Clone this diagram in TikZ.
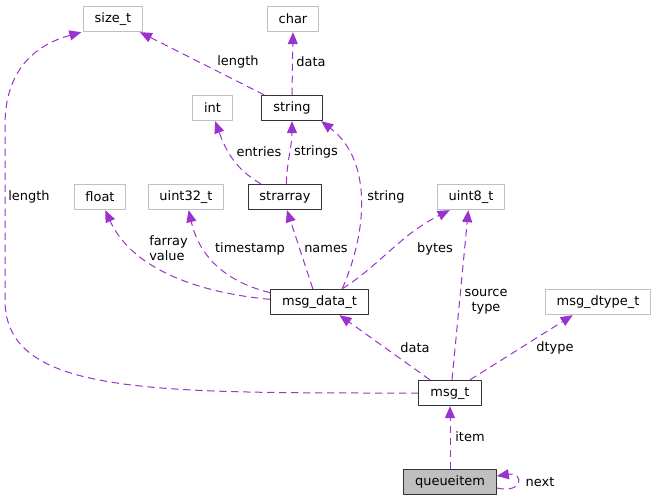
\documentclass[tikz,border=0pt]{standalone}
\usepackage{fontspec}
\setmainfont{DejaVu Sans}
\usetikzlibrary{arrows.meta}
\definecolor{edgepurple}{HTML}{9A32CD}
\definecolor{leafgray}{HTML}{C0C0C0}
\definecolor{itemgray}{HTML}{BFBFBF}
\tikzset{
  type box/.style={draw=leafgray, line width=0.75pt, minimum height=19pt, inner xsep=8.6pt, inner ysep=0pt,
    font=\fontsize{9.7}{11}\selectfont},
  struct box/.style={type box, draw=black!80},
  member edge/.style={edgepurple, line width=0.75pt, dash pattern=on 5.5pt off 3.5pt,
    -{Triangle[length=9pt,width=7.5pt]}},
  member label/.style={inner sep=0pt, font=\fontsize{9.7}{11}\selectfont}
}

\begin{document}
\begin{tikzpicture}[x=0.75pt, y=-0.75pt, line join=round]

  % Frame (pixel grid of the reference)
  \useasboundingbox (0,0) rectangle (657,501);

  % Leaf types
  \node[type box] (size_t)      at (113,19)  {size\_t};
  \node[type box] (char)        at (293,19)  {char};
  \node[type box] (int)         at (212.5,108) {int};
  \node[type box] (float)       at (100,197) {float};
  \node[type box] (uint32_t)    at (186,197) {uint32\_t};
  \node[type box] (uint8_t)     at (471,197) {uint8\_t};
  \node[type box] (msg_dtype_t) at (598,302) {msg\_dtype\_t};

  % Structures
  \node[struct box] (string)     at (292,108)   {string};
  \node[struct box] (strarray)   at (285,197)   {strarray};
  \node[struct box] (msg_data_t) at (319.5,302) {msg\_data\_t};
  \node[struct box] (msg_t)      at (450,393)   {msg\_t};
  \node[struct box, fill=itemgray] (queueitem) at (450,482) {queueitem};

  % Members of string
  \draw[member edge] ([xshift=2pt]string.north west) -- ([xshift=-2.5pt]size_t.south east);
  \draw[member edge] (string.north) -- (char.south);

  % Members of strarray
  \draw[member edge] ([xshift=10pt]strarray.north west) to[out=150,in=-70] ([xshift=2pt]int.south);
  \draw[member edge] ([xshift=1pt]strarray.north) to[out=88,in=-90] (string.south);

  % Members of msg_data_t
  \draw[member edge] ([xshift=17pt]msg_data_t.north) .. controls (368,230) and (372,160) .. ([xshift=-1pt]string.south east);
  \draw[member edge] ([yshift=2pt]msg_data_t.west) .. controls (190,292) and (130,265) .. ([xshift=4pt]float.south);
  \draw[member edge] ([yshift=7pt]msg_data_t.west) .. controls (230,283) and (200,260) .. ([xshift=2pt]uint32_t.south);
  \draw[member edge] ([xshift=-5pt]msg_data_t.north) -- ([xshift=1.5pt]strarray.south);
  \draw[member edge] ([xshift=17pt]msg_data_t.north) .. controls (380,265) and (400,235) .. ([xshift=-16pt]uint8_t.south);

  % Members of msg_t
  \draw[member edge] ([xshift=-15pt]msg_t.north) -- ([xshift=15pt]msg_data_t.south);
  \draw[member edge] ([xshift=1.5pt]msg_t.north) -- ([xshift=-2pt]uint8_t.south);
  \draw[member edge] ([xshift=15pt]msg_t.north) -- ([xshift=-19pt]msg_dtype_t.south);
  \draw[member edge] (msg_t.west) .. controls (150,393) and (5,395) .. (5,300)
    -- (5,125) .. controls (5,70) and (35,45) .. ([xshift=-1pt]size_t.south west);

  % Members of queueitem
  \draw[member edge] (queueitem.north) -- (msg_t.south);
  \draw[member edge] ([yshift=-4.5pt]queueitem.east) .. controls (524,494) and (524,472) .. ([yshift=4.5pt]queueitem.east);

  % Edge labels
  \node[member label] (lbl_length_a) at (238,62)  {length};
  \node[member label] (lbl_data_a)   at (311,62)  {data};
  \node[member label] (lbl_entries)  at (259,152) {entries};
  \node[member label] (lbl_strings)  at (316,152) {strings};
  \node[member label] (lbl_string)   at (386,197) {string};
  \node[member label] (lbl_length_b) at (29,197)  {length};
  \node[member label, align=left, anchor=west] (lbl_farray) at (149,248) {farray\\value};
  \node[member label] (lbl_timestamp) at (250,249) {timestamp};
  \node[member label] (lbl_names)    at (326,249) {names};
  \node[member label] (lbl_bytes)    at (435,249) {bytes};
  \node[member label, align=center] (lbl_source) at (486,302) {source\\type};
  \node[member label] (lbl_data_b)   at (415,348) {data};
  \node[member label] (lbl_dtype)    at (555,348) {dtype};
  \node[member label] (lbl_item)     at (470,437) {item};
  \node[member label] (lbl_next)     at (540,482) {next};

\end{tikzpicture}
\end{document}
